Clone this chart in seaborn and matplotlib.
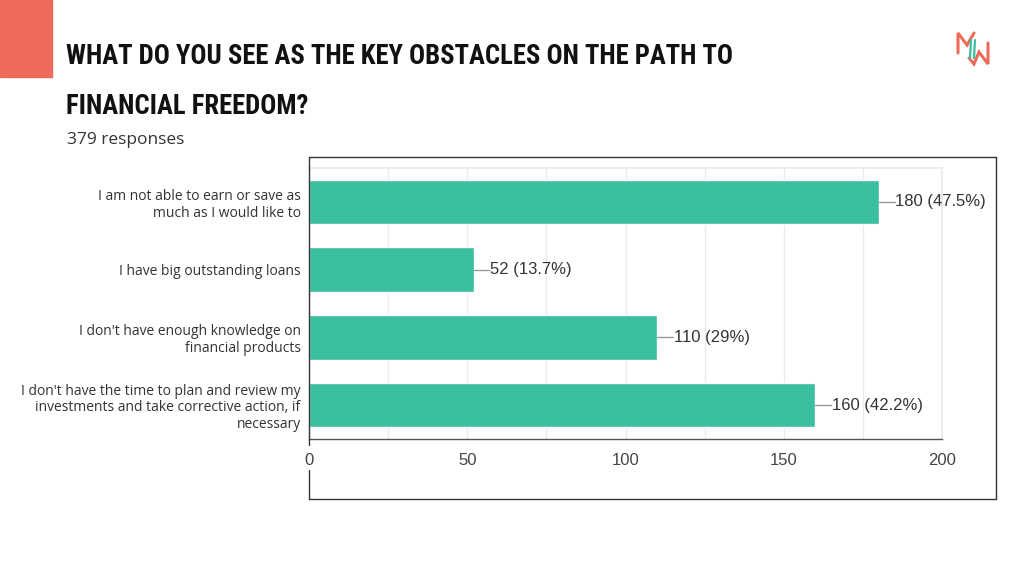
import matplotlib
matplotlib.use("Agg")
import matplotlib.pyplot as plt
import seaborn as sns
import pandas as pd
from matplotlib.lines import Line2D
from matplotlib.patches import Rectangle
from matplotlib import font_manager as fm

categories = [
    "I am not able to earn or save as\nmuch as I would like to",
    "I have big outstanding loans",
    "I don't have enough knowledge on\nfinancial products",
    "I don't have the time to plan and review my\ninvestments and take corrective action, if\nnecessary",
]
counts = [180, 52, 110, 160]
pct_labels = ["47.5%", "13.7%", "29%", "42.2%"]
x_ticks = [0, 50, 100, 150, 200]
title_lines = ["WHAT DO YOU SEE AS THE KEY OBSTACLES ON THE PATH TO", "FINANCIAL FREEDOM?"]

sns.set_theme(style="white")
plt.rcParams["font.family"] = ["DejaVu Sans"]

W, H = 1024, 576
fig = plt.figure(figsize=(10.24, 5.76), dpi=100)
fig.patch.set_facecolor("white")

def fx(px):
    return px / W

def fy(py):
    return 1 - py / H

# choose a narrow bold font if one is installed
names = {f.name for f in fm.fontManager.ttflist}
title_family = "DejaVu Sans"
title_stretch = "normal"
for cand in ["Liberation Sans Narrow", "Roboto Condensed", "Open Sans Condensed"]:
    if cand in names:
        title_family = cand
        break
else:
    if any(f.name == "DejaVu Sans" and str(f.stretch) in ("condensed", "semi-condensed")
           for f in fm.fontManager.ttflist):
        title_stretch = "condensed"

ax = fig.add_axes([fx(309), fy(439), fx(942) - fx(309), fy(168) - fy(439)])
df = pd.DataFrame({"cat": categories, "n": counts})
sns.barplot(data=df, y="cat", x="n", orient="h", color="#3BBFA0", saturation=1,
            width=0.66, ax=ax, zorder=3)

ax.set_xlim(0, 200)
ax.set_ylim(3.5, -0.5)
ax.set_xlabel("")
ax.set_ylabel("")
ax.set_xticks(x_ticks)
ax.set_xticks([25, 75, 125, 175], minor=True)
ax.set_xticklabels([str(t) for t in x_ticks], fontsize=12, color="#444444",
                   family="Liberation Sans")
ax.tick_params(axis="x", which="both", length=0, pad=10)
ax.tick_params(axis="y", length=0, pad=6)
ax.set_yticks(range(len(categories)))
ax.set_yticklabels(categories, fontsize=10, color="#333333", family="Open Sans",
                   linespacing=1.15)
ax.grid(axis="x", which="both", color="#EBEBEB", lw=1, zorder=0)
for s in ["top", "right"]:
    ax.spines[s].set_color("#EBEBEB")
ax.spines["left"].set_visible(False)
ax.spines["bottom"].set_color("#555555")
ax.spines["bottom"].set_linewidth(1)

for i, (v, p) in enumerate(zip(counts, pct_labels)):
    ax.plot([v, v + 5], [i, i], color="#999999", lw=1, zorder=4, clip_on=False)
    ax.text(v + 5.3, i, f"{v} ({p})", va="center", ha="left", fontsize=12,
            color="#333333", family="Liberation Sans", zorder=5)

# outer frame
frame_kw = dict(color="#333333", lw=1, transform=fig.transFigure)
fig.add_artist(Line2D([fx(309), fx(996)], [fy(157), fy(157)], **frame_kw))
fig.add_artist(Line2D([fx(996), fx(996)], [fy(157), fy(499)], **frame_kw))
fig.add_artist(Line2D([fx(309), fx(996)], [fy(499), fy(499)], **frame_kw))
fig.add_artist(Line2D([fx(309), fx(309)], [fy(157), fy(445)], **frame_kw))
fig.add_artist(Line2D([fx(309), fx(309)], [fy(470), fy(499)], **frame_kw))

# coral block
fig.add_artist(Rectangle((0, fy(77)), fx(52), fy(0) - fy(77), color="#EE6A5B",
                         transform=fig.transFigure))

# title, sized to fit the reference width
t1 = fig.text(fx(66), fy(56), title_lines[0], fontsize=25, fontweight="bold",
              color="#111111", va="center", ha="left", family=title_family,
              fontstretch=title_stretch)
t2 = fig.text(fx(66), fy(107), title_lines[1], fontsize=25, fontweight="bold",
              color="#111111", va="center", ha="left", family=title_family,
              fontstretch=title_stretch)
fig.canvas.draw()
r = fig.canvas.get_renderer()
w1 = t1.get_window_extent(r).width
size = min(25 * 668 / w1, 30)
t1.set_fontsize(size)
t2.set_fontsize(size)

fig.text(fx(67), fy(140), "379 responses", fontsize=12.5, color="#333333",
         va="center", ha="left", family="Open Sans")

# logo mark (graphic)
logo_coral = dict(color="#EE6A5B", lw=2.2, transform=fig.transFigure,
                  solid_joinstyle="miter")
m_pts = [(958, 53), (958, 33), (967, 45), (974, 33)]
w_pts = [(969, 58), (974, 64), (979, 52), (988, 64), (988, 43)]
fig.add_artist(Line2D([fx(p[0]) for p in m_pts], [fy(p[1]) for p in m_pts], **logo_coral))
fig.add_artist(Line2D([fx(p[0]) for p in w_pts], [fy(p[1]) for p in w_pts], **logo_coral))
for dx in (0, 4):
    fig.add_artist(Line2D([fx(970 + dx), fx(971 + dx)], [fy(58), fy(40)],
                          color="#3BBFA0", lw=1.6, transform=fig.transFigure))

fig.savefig("out.png", dpi=100, facecolor="white")
